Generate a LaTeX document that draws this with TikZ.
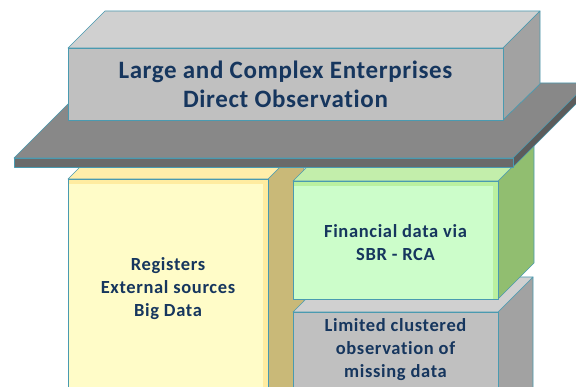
\documentclass[tikz,border=0pt]{standalone}
\usepackage{fontspec}
\setmainfont{Carlito}
\newfontfamily\lblfont{Carlito}[LetterSpace=3.5,Ligatures=NoCommon]
\newfontfamily\bigfont{Carlito}[LetterSpace=2.5,Ligatures=NoCommon]
\definecolor{edgec}{RGB}{74,154,176}
\definecolor{txt}{RGB}{22,54,94}
\definecolor{gFront}{RGB}{192,192,192}
\definecolor{gTop}{RGB}{208,208,208}
\definecolor{gSide}{RGB}{162,162,162}
\definecolor{pTop}{RGB}{136,136,136}
\definecolor{pFront}{RGB}{106,106,106}
\definecolor{pSide}{RGB}{92,92,92}
\definecolor{yFront}{RGB}{255,252,200}
\definecolor{yStrip}{RGB}{255,236,160}
\definecolor{yTop}{RGB}{255,238,170}
\definecolor{ySide}{RGB}{201,185,120}
\definecolor{grFront}{RGB}{204,253,202}
\definecolor{grStrip}{RGB}{186,240,160}
\definecolor{grTop}{RGB}{195,238,171}
\definecolor{grSide}{RGB}{145,190,112}
\begin{document}
\begin{tikzpicture}[x=1pt,y=-1pt,
  edge/.style={draw=edgec, line width=0.7pt, line join=round},
  lbl/.style={font=\lblfont\bfseries\fontsize{18.5}{23}\selectfont, text=txt, align=center, inner sep=0pt},
  bigLbl/.style={font=\bigfont\bfseries\fontsize{25}{29}\selectfont, text=txt, align=center, inner sep=0pt}]
\useasboundingbox (0,0) rectangle (576,387);
\clip (0,0) rectangle (576,387);
% yellow box
\path[fill=ySide, edge] (268,179) -- (304,143) -- (304,400) -- (268,400) -- cycle;
\path[fill=yTop, edge] (68,179) -- (104,143) -- (304,143) -- (268,179) -- cycle;
\path[fill=yStrip] (68,179) rectangle (268,400);
\path[fill=yFront] (68,184) rectangle (263,400);
\draw[edge] (68,179) rectangle (268,400);
% gray lower box
\path[fill=gSide, edge] (498,312) -- (533,277) -- (533,400) -- (498,400) -- cycle;
\path[fill=gTop, edge] (293,312) -- (328,277) -- (533,277) -- (498,312) -- cycle;
\path[fill=gFront, edge] (293,312) rectangle (498,400);
% green box
\path[fill=grSide, edge] (498,181) -- (534,145) -- (534,263) -- (498,299) -- cycle;
\path[fill=grTop, edge] (293,181) -- (329,145) -- (534,145) -- (498,181) -- cycle;
\path[fill=grStrip] (293,181) rectangle (498,299);
\path[fill=grFront] (293,186) rectangle (493,299);
\draw[edge] (293,181) rectangle (498,299);
% plate
\path[fill=pTop, edge] (14,158) -- (89,83) -- (600,83) -- (513,158) -- cycle;
\path[fill=pSide, edge] (513,158) -- (589,82) -- (589,91) -- (513,167) -- cycle;
\path[fill=pFront, edge] (14,158) rectangle (513,167);
% top box
\path[fill=gTop, edge] (68,48) -- (105,11) -- (540,11) -- (503,48) -- cycle;
\path[fill=gSide, edge] (503,48) -- (540,11) -- (540,84) -- (503,120) -- cycle;
\path[fill=gFront, edge] (68,48) rectangle (503,120);
% labels
\node[bigLbl] (top) at (285.5,84.5) {Large and Complex Enterprises\\Direct Observation};
\node[lbl] (reg) at (168,289) {Registers\\External sources\\Big Data};
\node[lbl] (fin) at (395.5,242.5) {Financial data via\\SBR - RCA};
\node[lbl] (lim) at (395.5,350) {Limited clustered\\observation of\\missing data};
\end{tikzpicture}
\end{document}
